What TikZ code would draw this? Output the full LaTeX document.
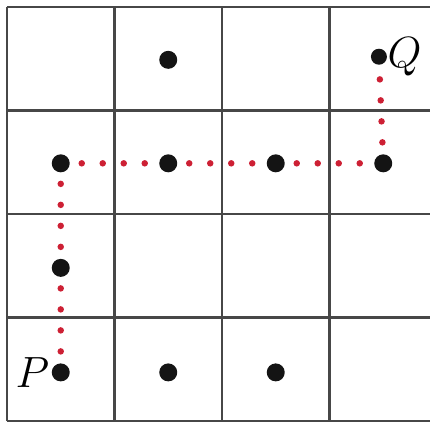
\documentclass[tikz,border=0pt]{standalone}
\usepackage{amsmath}
\usetikzlibrary{backgrounds}
\definecolor{trailred}{RGB}{205,32,52}

\begin{document}
\begin{tikzpicture}[x=2.15cm, y=2.07cm,
	dot/.style={circle, fill=black!92, inner sep=0pt, minimum size=0.36cm},
	qdot/.style={dot, minimum size=0.32cm},
	trail/.style={trailred, line width=0.13cm, line cap=round, dash pattern=on 0pt off 0.42cm},
	every label/.style={font=\fontsize{28}{32}\selectfont, inner sep=0pt}]
	\useasboundingbox (-0.065,-0.01) rectangle (3.935,4.068);
	\node[dot, label={[label distance=1pt]left:$P$}] (p) at (0.5,0.47) {};
	\node[dot] (b2) at (1.5,0.47) {};
	\node[dot] (b3) at (2.5,0.47) {};
	\node[dot] (r1) at (0.5,1.48) {};
	\node[dot] (c1) at (0.5,2.49) {};
	\node[dot] (c2) at (1.5,2.49) {};
	\node[dot] (c3) at (2.5,2.49) {};
	\node[dot] (c4) at (3.5,2.49) {};
	\node[dot] (t2) at (1.5,3.49) {};
	\node[qdot, label={[label distance=0pt]right:$Q$}] (q) at (3.46,3.52) {};
	\begin{scope}[on background layer]
		\draw[black!72, line width=1.2pt, step=1] (0,0) grid (4,4);
		\foreach \a/\b in {p/r1, r1/c1, c1/c2, c2/c3, c3/c4, c4/q}
			\draw[trail] (\a.center) -- (\b.center);
	\end{scope}
\end{tikzpicture}
\end{document}
